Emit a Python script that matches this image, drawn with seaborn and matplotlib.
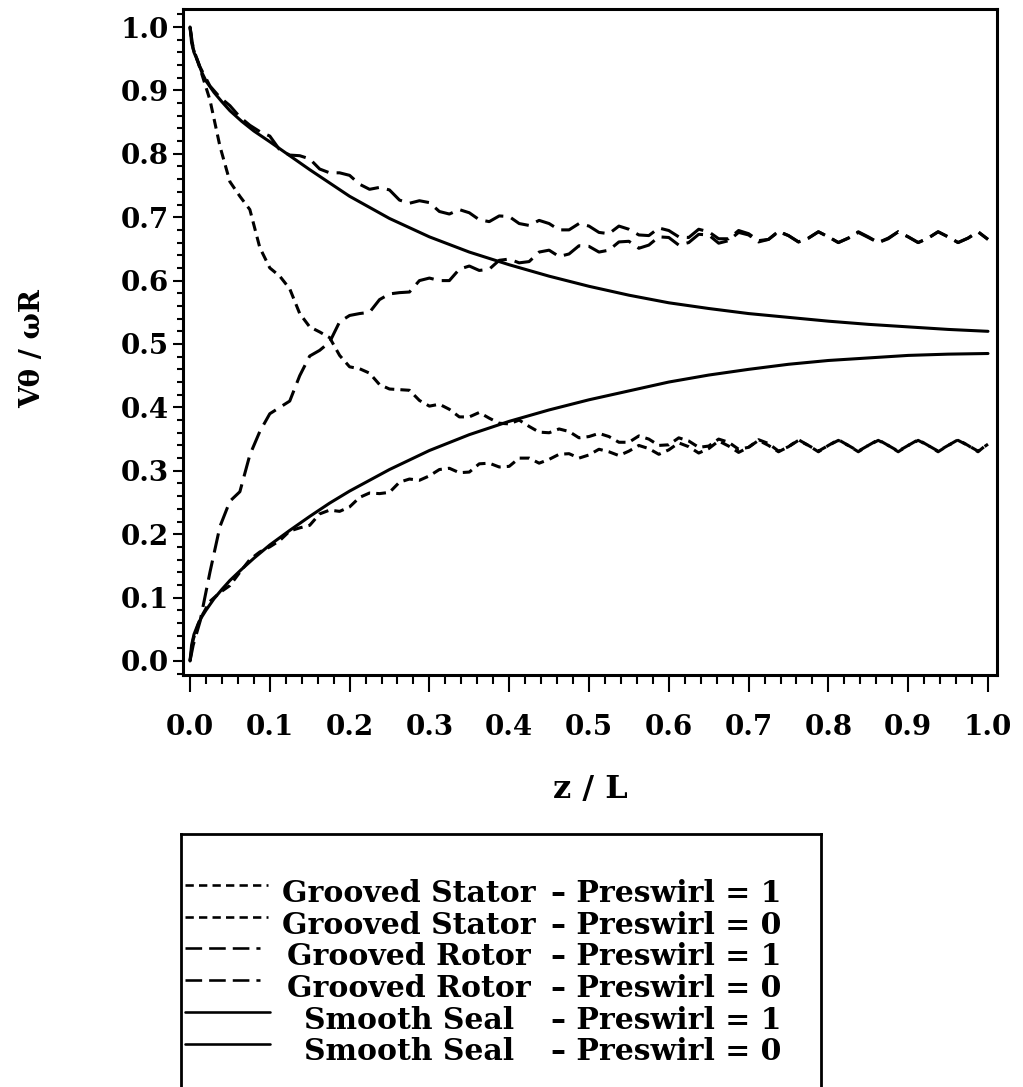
import numpy as np
import pandas as pd
import matplotlib
matplotlib.use("Agg")
import matplotlib.pyplot as plt
from matplotlib.ticker import MultipleLocator, FormatStrFormatter
import seaborn as sns

# ---------------- data ----------------
z_smooth = [0.0, 0.002, 0.005, 0.01, 0.015, 0.02, 0.03, 0.04, 0.05, 0.065, 0.08,
            0.1, 0.125, 0.15, 0.175, 0.2, 0.25, 0.3, 0.35, 0.4, 0.45, 0.5, 0.55,
            0.6, 0.65, 0.7, 0.75, 0.8, 0.85, 0.9, 0.95, 1.0]
smooth_pre1 = [1.0, 0.975, 0.96, 0.945, 0.928, 0.915, 0.897, 0.882, 0.868, 0.851,
               0.836, 0.819, 0.797, 0.775, 0.754, 0.733, 0.698, 0.669, 0.645, 0.625,
               0.607, 0.591, 0.577, 0.565, 0.556, 0.548, 0.542, 0.536, 0.531, 0.527,
               0.523, 0.520]
smooth_pre0 = [0.0, 0.025, 0.042, 0.058, 0.07, 0.08, 0.098, 0.113, 0.127, 0.145,
               0.162, 0.183, 0.206, 0.228, 0.249, 0.268, 0.302, 0.332, 0.357, 0.378,
               0.396, 0.412, 0.426, 0.440, 0.451, 0.460, 0.468, 0.474, 0.478, 0.482,
               0.484, 0.485]

z_groove = [0.0, 0.004, 0.0125, 0.025, 0.0375, 0.05, 0.0625, 0.075, 0.0875, 0.1,
            0.1125, 0.125, 0.1375, 0.15, 0.1625, 0.175, 0.1875, 0.2, 0.2125, 0.225,
            0.2375, 0.25, 0.2625, 0.275, 0.2875, 0.3, 0.3125, 0.325, 0.3375, 0.35,
            0.3625, 0.375, 0.3875, 0.4, 0.4125, 0.425, 0.4375, 0.45, 0.4625, 0.475,
            0.4875, 0.5, 0.5125, 0.525, 0.5375, 0.55, 0.5625, 0.575, 0.5875, 0.6,
            0.6125, 0.625, 0.6375, 0.65, 0.6625, 0.675, 0.6875, 0.7, 0.7125, 0.725,
            0.7375, 0.75, 0.7625, 0.775, 0.7875, 0.8, 0.8125, 0.825, 0.8375, 0.85,
            0.8625, 0.875, 0.8875, 0.9, 0.9125, 0.925, 0.9375, 0.95, 0.9625, 0.975,
            0.9875, 1.0]

rotor_pre1 = [1.000, 0.966, 0.937, 0.907, 0.889, 0.876, 0.858, 0.845, 0.835, 0.828,
              0.806, 0.798, 0.797, 0.792, 0.776, 0.770, 0.770, 0.766, 0.752, 0.744,
              0.747, 0.743, 0.727, 0.722, 0.726, 0.723, 0.709, 0.705, 0.712, 0.707,
              0.696, 0.693, 0.702, 0.701, 0.690, 0.687, 0.695, 0.690, 0.680, 0.680,
              0.690, 0.686, 0.676, 0.674, 0.686, 0.681, 0.672, 0.671, 0.683, 0.679,
              0.669, 0.668, 0.681, 0.677, 0.666, 0.666, 0.679, 0.674, 0.663, 0.665,
              0.678, 0.671, 0.661, 0.667, 0.677, 0.669, 0.660, 0.667, 0.677, 0.669,
              0.660, 0.667, 0.677, 0.669, 0.660, 0.667, 0.677, 0.669, 0.660, 0.667,
              0.677, 0.665]
rotor_pre0 = [0.000, 0.025, 0.062, 0.140, 0.212, 0.252, 0.267, 0.325, 0.362, 0.390,
              0.400, 0.410, 0.450, 0.481, 0.490, 0.503, 0.535, 0.545, 0.548, 0.550,
              0.570, 0.579, 0.581, 0.582, 0.600, 0.604, 0.600, 0.600, 0.618, 0.623,
              0.616, 0.618, 0.632, 0.634, 0.628, 0.630, 0.645, 0.648, 0.638, 0.642,
              0.655, 0.654, 0.645, 0.648, 0.661, 0.662, 0.651, 0.656, 0.669, 0.668,
              0.656, 0.660, 0.673, 0.672, 0.659, 0.663, 0.676, 0.672, 0.661, 0.665,
              0.677, 0.671, 0.661, 0.667, 0.677, 0.669, 0.660, 0.667, 0.676, 0.668,
              0.660, 0.666, 0.677, 0.669, 0.660, 0.667, 0.677, 0.669, 0.660, 0.667,
              0.677, 0.665]
stator_pre1 = [1.000, 0.966, 0.935, 0.885, 0.812, 0.756, 0.733, 0.712, 0.652, 0.620,
               0.607, 0.587, 0.548, 0.527, 0.519, 0.510, 0.482, 0.464, 0.461, 0.454,
               0.436, 0.429, 0.428, 0.427, 0.411, 0.402, 0.405, 0.397, 0.385, 0.385,
               0.392, 0.383, 0.375, 0.374, 0.380, 0.370, 0.361, 0.360, 0.366, 0.362,
               0.352, 0.354, 0.359, 0.354, 0.345, 0.345, 0.355, 0.350, 0.340, 0.341,
               0.352, 0.347, 0.337, 0.339, 0.350, 0.345, 0.334, 0.337, 0.349, 0.343,
               0.331, 0.338, 0.349, 0.340, 0.330, 0.340, 0.349, 0.340, 0.330, 0.340,
               0.349, 0.340, 0.330, 0.340, 0.349, 0.340, 0.330, 0.340, 0.349, 0.340,
               0.330, 0.343]
stator_pre0 = [0.000, 0.034, 0.066, 0.094, 0.108, 0.119, 0.140, 0.160, 0.172, 0.180,
               0.190, 0.205, 0.210, 0.214, 0.232, 0.238, 0.236, 0.243, 0.258, 0.265,
               0.264, 0.266, 0.282, 0.287, 0.285, 0.292, 0.302, 0.304, 0.297, 0.298,
               0.311, 0.312, 0.306, 0.307, 0.320, 0.320, 0.312, 0.318, 0.326, 0.327,
               0.320, 0.325, 0.334, 0.330, 0.324, 0.331, 0.340, 0.335, 0.326, 0.333,
               0.344, 0.338, 0.328, 0.335, 0.347, 0.339, 0.329, 0.337, 0.348, 0.340,
               0.330, 0.338, 0.348, 0.340, 0.331, 0.340, 0.348, 0.340, 0.331, 0.340,
               0.348, 0.340, 0.331, 0.340, 0.348, 0.340, 0.331, 0.340, 0.348, 0.340,
               0.331, 0.342]

legend_names = ["Grooved Stator", "Grooved Stator", "Grooved Rotor",
                "Grooved Rotor", "Smooth Seal", "Smooth Seal"]
legend_preswirl = ["1", "0", "1", "0", "1", "0"]
x_ticks = [0.0, 0.1, 0.2, 0.3, 0.4, 0.5, 0.6, 0.7, 0.8, 0.9, 1.0]
y_ticks = [0.0, 0.1, 0.2, 0.3, 0.4, 0.5, 0.6, 0.7, 0.8, 0.9, 1.0]
x_label = "z / L"
y_label = "Vθ / ωR"

# ---------------- styling ----------------
sns.set_theme(style="white")
plt.rcParams['font.family'] = ['DejaVu Serif']
plt.rcParams['font.weight'] = 'bold'
plt.rcParams['axes.labelweight'] = 'bold'

LW = 2.2
SHORT = (0, (3.2, 2.0))
LONG = (0, (6.4, 2.7))
SOLID = '-'

series = [
    ("Grooved Stator", "1", z_groove, stator_pre1, SHORT),
    ("Grooved Stator", "0", z_groove, stator_pre0, SHORT),
    ("Grooved Rotor", "1", z_groove, rotor_pre1, LONG),
    ("Grooved Rotor", "0", z_groove, rotor_pre0, LONG),
    ("Smooth Seal", "1", z_smooth, smooth_pre1, SOLID),
    ("Smooth Seal", "0", z_smooth, smooth_pre0, SOLID),
]
style_of = {"Grooved Stator": SHORT, "Grooved Rotor": LONG, "Smooth Seal": SOLID}

W, H = 1023, 1087
fig = plt.figure(figsize=(W / 100, H / 100), dpi=100)
fig.patch.set_facecolor('white')

ax = fig.add_axes([183 / W, 1 - 675 / H, 814 / W, 666 / H])
ax.set_facecolor('white')

for name, pre, zz, vv, ls in series:
    df = pd.DataFrame({"z": zz, "v": vv})
    sns.lineplot(data=df, x="z", y="v", ax=ax, color="black", linewidth=LW,
                 linestyle=ls, estimator=None, legend=False)

ax.set_xlim(-0.00877, 1.0113)
ax.set_ylim(-0.0221, 1.0284)

ax.set_xticks(x_ticks)
ax.set_yticks(y_ticks)
ax.xaxis.set_major_formatter(FormatStrFormatter('%.1f'))
ax.yaxis.set_major_formatter(FormatStrFormatter('%.1f'))
ax.xaxis.set_minor_locator(MultipleLocator(0.02))
ax.yaxis.set_minor_locator(MultipleLocator(0.02))

ax.tick_params(axis='both', which='both', color='black', direction='out',
               bottom=True, left=True, top=False, right=False)
ax.tick_params(axis='x', which='major', length=12, width=1.5, pad=16,
               labelsize=20, labelcolor='black')
ax.tick_params(axis='x', which='minor', length=6.5, width=1.5)
ax.tick_params(axis='y', which='major', length=7.2, width=1.5, pad=3,
               labelsize=20, labelcolor='black')
ax.tick_params(axis='y', which='minor', length=4.3, width=1.5)
for lab in ax.get_xticklabels() + ax.get_yticklabels():
    lab.set_fontweight('bold')

for sp in ax.spines.values():
    sp.set_visible(True)
    sp.set_color('black')
    sp.set_linewidth(2.2)

ax.set_xlabel(x_label, fontsize=23, fontweight='bold', color='black')
ax.set_ylabel(y_label, fontsize=20, fontweight='bold', color='black')
ax.xaxis.set_label_coords(0.5, -0.148)
ax.yaxis.set_label_coords(-0.168, 0.49)

# ---------------- legend box ----------------
lax = fig.add_axes([181 / W, -0.03, 640 / W, (H - 834) / H + 0.03])
lax.set_xlim(181, 821)
lax.set_ylim(H + 0.03 * H, 834)
lax.set_xticks([])
lax.set_yticks([])
lax.set_facecolor('none')
for sp in lax.spines.values():
    sp.set_visible(True)
    sp.set_color('black')
    sp.set_linewidth(2.0)

row0, drow = 891, 31.7
sample_end = {"Grooved Stator": 268, "Grooved Rotor": 260, "Smooth Seal": 270}
for i, (nm, pv) in enumerate(zip(legend_names, legend_preswirl)):
    yc = row0 + i * drow
    lax.plot([185, sample_end[nm]], [yc - 6, yc - 6], color='black',
             linewidth=LW * 0.85, linestyle=style_of[nm])
    txt = dict(va='baseline', fontsize=21.5, fontweight='bold', color='black')
    lax.text(409, yc + 11, nm, ha='center', **txt)
    lax.text(551, yc + 11, "– Preswirl = " + pv, ha='left', **txt)

fig.savefig("out.png", dpi=100, facecolor='white')
